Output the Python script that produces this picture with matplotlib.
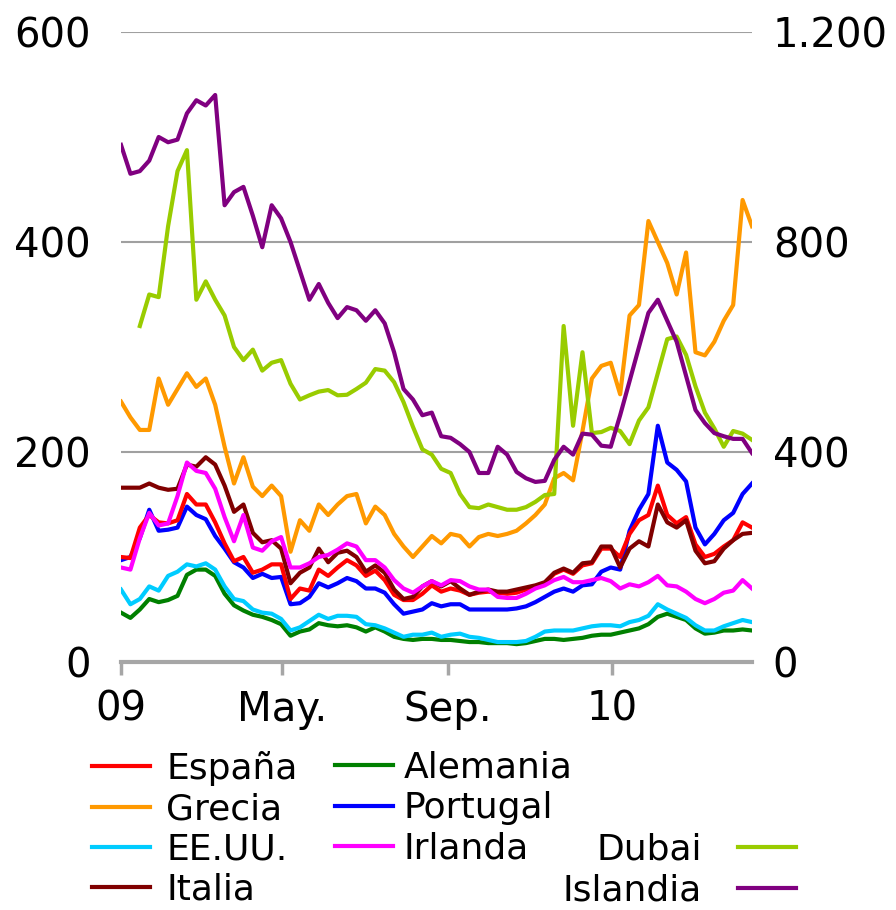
import matplotlib
matplotlib.use("Agg")
import numpy as np
import pandas as pd
import matplotlib.pyplot as plt

# Weekly readings, Jan 2009 - mid Apr 2010 (left axis in bp, Dubai/Islandia on right axis)
fechas = pd.date_range("2009-01-01", periods=68, freq="7D")

espana = [100, 99, 128, 140, 133, 132, 135, 160, 150, 150,
          133, 113, 96, 100, 85, 88, 93, 93, 60, 70,
          68, 88, 82, 90, 97, 92, 82, 87, 78, 64,
          59, 59, 65, 73, 67, 70, 68, 64, 66, 67,
          66, 65, 66, 69, 71, 75, 84, 88, 84, 92,
          94, 108, 108, 100, 122, 135, 140, 168, 140, 132,
          138, 112, 100, 103, 110, 116, 133, 128]

alemania = [47, 42, 50, 60, 57, 59, 63, 83, 88, 88,
            82, 65, 54, 49, 45, 43, 40, 36, 25, 29,
            31, 37, 35, 34, 35, 33, 29, 33, 29, 24,
            22, 21, 22, 22, 21, 21, 20, 19, 19, 18,
            18, 18, 17, 18, 20, 22, 22, 21, 22, 23,
            25, 26, 26, 28, 30, 32, 36, 43, 46, 43,
            40, 32, 27, 28, 30, 30, 31, 30]

grecia = [248, 233, 221, 221, 270, 245, 260, 275, 262, 270,
          245, 205, 170, 195, 167, 158, 168, 158, 105, 135,
          125, 150, 140, 150, 158, 160, 132, 148, 140, 122,
          110, 100, 110, 120, 113, 122, 120, 110, 119, 122,
          120, 122, 125, 132, 140, 150, 175, 180, 173, 220,
          270, 282, 285, 255, 330, 340, 420, 400, 380, 350,
          390, 295, 292, 305, 325, 340, 440, 415]

portugal = [97, 100, 118, 145, 125, 126, 128, 148, 140, 136,
            120, 108, 95, 90, 80, 84, 80, 81, 55, 56,
            62, 75, 71, 75, 80, 77, 70, 70, 66, 55,
            46, 48, 50, 56, 53, 55, 55, 50, 50, 50,
            50, 50, 51, 53, 57, 62, 67, 70, 67, 73,
            74, 86, 90, 88, 125, 145, 160, 225, 190, 183,
            172, 128, 112, 122, 135, 142, 160, 170]

eeuu = [69, 55, 60, 72, 68, 82, 86, 93, 91, 94,
        88, 72, 60, 58, 50, 47, 46, 41, 30, 33,
        39, 45, 41, 44, 44, 43, 36, 35, 32, 28,
        24, 26, 26, 28, 24, 26, 27, 24, 23, 21,
        19, 19, 19, 20, 24, 29, 30, 30, 30, 32,
        34, 35, 35, 34, 38, 40, 44, 55, 50, 46,
        42, 35, 30, 30, 34, 37, 40, 38]

irlanda = [90, 88, 118, 142, 130, 132, 158, 190, 182, 180,
           165, 138, 115, 140, 109, 106, 115, 119, 90, 90,
           94, 100, 102, 107, 113, 110, 97, 97, 90, 78,
           70, 66, 72, 77, 73, 78, 77, 72, 69, 69,
           62, 61, 61, 65, 70, 73, 78, 81, 76, 76,
           78, 80, 77, 70, 74, 72, 76, 82, 73, 72,
           67, 60, 56, 60, 66, 68, 78, 70]

italia = [166, 166, 166, 170, 166, 164, 165, 188, 186, 195,
          188, 168, 143, 150, 123, 114, 116, 108, 75, 85,
          90, 108, 95, 104, 106, 100, 86, 92, 85, 69,
          60, 62, 72, 77, 72, 77, 70, 64, 67, 69,
          67, 67, 69, 71, 73, 76, 85, 89, 85, 94,
          95, 110, 110, 90, 108, 115, 110, 150, 133, 128,
          135, 106, 94, 96, 108, 116, 122, 123]

dubai = [np.nan, np.nan, 640, 700, 695, 830, 935, 975, 690, 725,
         690, 660, 600, 575, 595, 555, 570, 575, 530, 500,
         508, 515, 518, 508, 509, 520, 532, 558, 555, 533,
         495, 448, 405, 395, 368, 360, 320, 295, 293, 300,
         295, 290, 290, 295, 305, 318, 320, 640, 450, 590,
         436, 438, 446, 440, 415, 460, 485, 550, 615, 620,
         585, 525, 475, 445, 410, 440, 435, 423]

islandia = [985, 930, 935, 955, 1000, 990, 995, 1045, 1070, 1060,
            1080, 870, 895, 905, 850, 790, 870, 845, 800, 745,
            690, 720, 684, 655, 676, 670, 650, 670, 645, 590,
            520, 500, 470, 475, 430, 427, 415, 400, 360, 360,
            410, 395, 362, 350, 343, 345, 385, 410, 395, 435,
            433, 412, 410, 470, 535, 600, 665, 690, 650, 610,
            545, 480, 455, 436, 430, 425, 425, 398]

tick_fechas = pd.to_datetime(["2009-01-01", "2009-05-01", "2009-09-01", "2010-01-01"])
tick_labels = ["09", "May.", "Sep.", "10"]

plt.rcParams["font.family"] = ["DejaVu Sans"]

fig = plt.figure(figsize=(8.96, 9.10), dpi=100)
ax = fig.add_axes([121 / 896, 1 - 662 / 910, 631 / 896, 630 / 910])

lw = 3
l_gr, = ax.plot(fechas, grecia, color="#FF9900", lw=lw, label="Grecia")
l_pt, = ax.plot(fechas, portugal, color="#0000FF", lw=lw, label="Portugal")
l_es, = ax.plot(fechas, espana, color="#FF0000", lw=lw, label="España")
l_it, = ax.plot(fechas, italia, color="#800000", lw=lw, label="Italia")
l_ir, = ax.plot(fechas, irlanda, color="#FF00FF", lw=lw, label="Irlanda")
l_al, = ax.plot(fechas, alemania, color="#008000", lw=lw, label="Alemania")
l_us, = ax.plot(fechas, eeuu, color="#00CCFF", lw=lw, label="EE.UU.")

ax.set_xlim(fechas[0], fechas[-1])
ax.set_ylim(0, 600)
ax.set_yticks([0, 200, 400, 600])
ax.set_xticks(tick_fechas)
ax.set_xticklabels(tick_labels)
ax.yaxis.grid(True, color="#A0A0A0", lw=1.5)
ax.set_axisbelow(True)
ax.tick_params(axis="x", length=9, width=2.5, color="#A6A6A6", pad=11, labelsize=29)
ax.tick_params(axis="y", length=0, pad=22, labelsize=29)
for s in ["left", "right", "top"]:
    ax.spines[s].set_visible(False)
ax.spines["bottom"].set_color("#A6A6A6")
ax.spines["bottom"].set_linewidth(3)

# right axis for Dubai and Islandia
ax2 = ax.twinx()
l_du, = ax2.plot(fechas, dubai, color="#99CC00", lw=lw, label="Dubai")
l_is, = ax2.plot(fechas, islandia, color="#800080", lw=lw, label="Islandia")
ax2.set_ylim(0, 1200)
ax2.set_yticks([0, 400, 800, 1200])
ax2.set_yticklabels(["0", "400", "800", "1.200"])
ax2.tick_params(axis="y", length=0, pad=15, labelsize=29)
for s in ax2.spines.values():
    s.set_visible(False)

# legend in three blocks
leg_kw = dict(fontsize=26, frameon=False, borderpad=0, borderaxespad=0,
              handlelength=1.6, labelspacing=0.17)
fig.legend(handles=[l_es, l_gr, l_us, l_it], loc="upper left", handletextpad=0.45,
           bbox_to_anchor=(92 / 896, 1 - 751 / 910), **leg_kw)
fig.legend(handles=[l_al, l_pt, l_ir], loc="upper left", handletextpad=0.3,
           bbox_to_anchor=(335 / 896, 1 - 751 / 910), **leg_kw)
fig.legend(handles=[l_du, l_is], loc="upper right", markerfirst=False, handletextpad=1.0,
           bbox_to_anchor=(796 / 896, 1 - 833 / 910), **leg_kw)

fig.savefig("out.png", dpi=100)
